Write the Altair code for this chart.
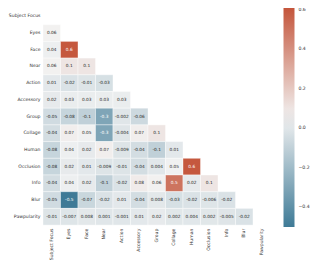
import altair as alt
import pandas as pd

labels = ["Subject Focus", "Eyes", "Face", "Near", "Action", "Accessory", "Group",
          "Collage", "Human", "Occlusion", "Info", "Blur", "Pawpularity"]

# lower triangle (row i has values for columns 0..i-1)
r_eyes = [0.06]
r_face = [0.04, 0.6]
r_near = [0.06, 0.1, 0.1]
r_action = [0.01, -0.02, -0.01, -0.03]
r_accessory = [0.02, 0.03, 0.03, 0.03, 0.03]
r_group = [-0.05, -0.08, -0.1, -0.3, -0.002, -0.06]
r_collage = [-0.04, 0.07, 0.05, -0.3, -0.004, 0.07, 0.1]
r_human = [-0.08, 0.04, 0.02, 0.07, -0.009, -0.04, -0.1, 0.01]
r_occlusion = [-0.08, 0.02, 0.01, -0.009, -0.01, -0.04, 0.004, 0.05, 0.6]
r_info = [-0.04, 0.04, 0.02, -0.1, -0.02, 0.08, 0.06, 0.5, 0.02, 0.1]
r_blur = [-0.05, -0.5, -0.07, -0.02, 0.01, -0.04, 0.008, -0.03, -0.02, -0.006, -0.02]
r_paw = [-0.01, -0.007, 0.008, 0.001, -0.001, 0.01, 0.02, 0.002, 0.004, 0.002, -0.005, -0.02]

rows = [[], r_eyes, r_face, r_near, r_action, r_accessory, r_group, r_collage,
        r_human, r_occlusion, r_info, r_blur, r_paw]

records = []
for i, vals in enumerate(rows):
    for j, v in enumerate(vals):
        records.append({"row": labels[i], "col": labels[j], "v": v})
df = pd.DataFrame(records)

FONT = "DejaVu Sans"
cell_w = 17.5
cell_h = 16.7
W = cell_w * len(labels)
H = cell_h * len(labels)

color_scale = alt.Scale(domain=[-0.5, 0.055, 0.61],
                        range=["#3e7a96", "#f2f2f2", "#c4553b"],
                        interpolate="rgb")

x_enc = alt.X("col:N", sort=labels,
              scale=alt.Scale(domain=labels, paddingInner=0, paddingOuter=0),
              axis=alt.Axis(title=None, labelAngle=270, labelAlign="right",
                            labelBaseline="middle", ticks=False, domain=False,
                            labelPadding=3, labelFontSize=4.6, labelFont=FONT,
                            labelColor="#333333"))
y_enc = alt.Y("row:N", sort=labels,
              scale=alt.Scale(domain=labels, paddingInner=0, paddingOuter=0),
              axis=alt.Axis(title=None, ticks=False, domain=False,
                            labelPadding=3, labelFontSize=4.6, labelFont=FONT,
                            labelColor="#333333"))

base = alt.Chart(df).encode(x=x_enc, y=y_enc)

rects = base.mark_rect(stroke="white", strokeWidth=0.4).encode(
    color=alt.Color("v:Q", scale=color_scale,
                    legend=alt.Legend(title=None, orient="none",
                                      legendX=W + 13, legendY=0,
                                      direction="vertical",
                                      gradientLength=H + 2, gradientThickness=11,
                                      gradientStrokeWidth=0,
                                      values=[-0.4, -0.2, 0.0, 0.2, 0.4, 0.6],
                                      labelFontSize=4.6, labelFont=FONT,
                                      labelColor="#333333", labelOffset=4,
                                      format=".1f"))
)

texts = base.transform_calculate(lbl="'' + datum.v").mark_text(
    font=FONT, fontSize=4.3
).encode(
    text="lbl:N",
    color=alt.condition("datum.v < -0.25 || datum.v > 0.4",
                        alt.value("white"), alt.value("#262626"))
)

chart = (rects + texts).properties(width=W, height=H, padding=0).configure_view(stroke=None)

chart.save("out.html", embed_options={"renderer": "svg", "actions": False})
